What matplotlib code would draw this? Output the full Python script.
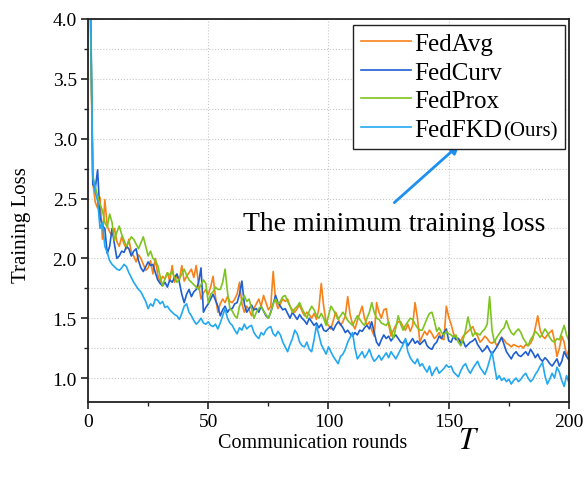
import numpy as np
import matplotlib
matplotlib.use('Agg')
import matplotlib.pyplot as plt
from matplotlib.ticker import MultipleLocator
from matplotlib.offsetbox import TextArea, HPacker

plt.rcParams['font.family'] = ['Liberation Serif', 'DejaVu Serif']
plt.rcParams['mathtext.fontset'] = 'stix'

rounds = np.arange(0, 201)

fedavg = [
    5.2, 4.0, 2.64, 2.47, 2.42, 2.51, 2.16, 2.49, 2.27, 2.22,
    2.19, 2.25, 2.14, 2.10, 2.18, 2.12, 2.08, 2.16, 2.05, 2.02,
    1.97, 2.03, 2.00, 1.95, 1.90, 1.92, 1.98, 1.87, 2.00, 1.86,
    1.80, 1.85, 1.83, 1.88, 1.81, 1.94, 1.80, 1.86, 1.82, 1.94,
    1.81, 1.85, 1.88, 1.91, 1.84, 1.94, 1.78, 1.66, 1.71, 1.74,
    1.70, 1.76, 1.85, 1.68, 1.55, 1.62, 1.66, 1.63, 1.68, 1.64,
    1.63, 1.66, 1.70, 1.80, 1.62, 1.55, 1.60, 1.57, 1.52, 1.58,
    1.62, 1.66, 1.60, 1.69, 1.63, 1.57, 1.60, 1.89, 1.65, 1.58,
    1.62, 1.66, 1.64, 1.66, 1.60, 1.57, 1.55, 1.58, 1.61, 1.56,
    1.52, 1.55, 1.53, 1.50, 1.54, 1.49, 1.58, 1.79, 1.60, 1.47,
    1.44, 1.41, 1.48, 1.55, 1.50, 1.44, 1.47, 1.52, 1.68, 1.53,
    1.45, 1.41, 1.48, 1.54, 1.60, 1.50, 1.44, 1.47, 1.40, 1.35,
    1.63, 1.55, 1.50, 1.57, 1.58, 1.45, 1.35, 1.40, 1.44, 1.47,
    1.47, 1.43, 1.40, 1.45, 1.39, 1.44, 1.63, 1.50, 1.30, 1.35,
    1.39, 1.36, 1.40, 1.37, 1.33, 1.35, 1.38, 1.33, 1.32, 1.60,
    1.51, 1.45, 1.37, 1.34, 1.33, 1.31, 1.35, 1.37, 1.39, 1.41,
    1.43, 1.38, 1.35, 1.30, 1.32, 1.35, 1.33, 1.30, 1.29, 1.31,
    1.27, 1.30, 1.34, 1.32, 1.29, 1.28, 1.26, 1.28, 1.27, 1.26,
    1.27, 1.25, 1.28, 1.27, 1.29, 1.33, 1.42, 1.52, 1.40, 1.35,
    1.33, 1.36, 1.38, 1.40, 1.31, 1.18, 1.25, 1.35, 1.30, 1.18,
    1.24]

fedcurv = [
    5.8, 4.3, 2.62, 2.58, 2.74, 2.35, 2.27, 2.25, 2.04, 2.10,
    2.25, 2.12, 2.00, 2.02, 2.06, 2.05, 2.10, 2.08, 2.02, 2.06,
    2.08, 1.98, 1.92, 1.89, 1.93, 1.97, 1.94, 1.95, 1.88, 1.82,
    1.79, 1.77, 1.80, 1.76, 1.82, 1.80, 1.84, 1.87, 1.80, 1.70,
    1.63, 1.70, 1.74, 1.68, 1.72, 1.74, 1.80, 1.92, 1.55, 1.59,
    1.62, 1.66, 1.70, 1.65, 1.60, 1.52, 1.57, 1.60, 1.55, 1.58,
    1.58, 1.62, 1.63, 1.70, 1.81, 1.62, 1.55, 1.58, 1.61, 1.57,
    1.58, 1.55, 1.60, 1.56, 1.52, 1.50, 1.55, 1.62, 1.69, 1.63,
    1.60, 1.57, 1.58, 1.54, 1.50, 1.55, 1.52, 1.49, 1.53, 1.50,
    1.48, 1.45, 1.50, 1.47, 1.44, 1.46, 1.42, 1.45, 1.40, 1.39,
    1.41, 1.43, 1.40, 1.44, 1.47, 1.45, 1.42, 1.38, 1.40, 1.37,
    1.35, 1.38, 1.36, 1.40, 1.39, 1.42, 1.44, 1.41, 1.47, 1.38,
    1.30, 1.27, 1.32, 1.36, 1.33, 1.35, 1.31, 1.34, 1.36, 1.33,
    1.30, 1.29, 1.32, 1.27, 1.30, 1.33, 1.29, 1.31, 1.28, 1.30,
    1.32, 1.27, 1.25, 1.24, 1.28, 1.30, 1.35, 1.33, 1.38, 1.41,
    1.31, 1.30, 1.35, 1.32, 1.33, 1.29, 1.31, 1.26, 1.28, 1.30,
    1.31, 1.33, 1.28, 1.25, 1.22, 1.24, 1.27, 1.23, 1.20, 1.23,
    1.26, 1.30, 1.34, 1.28, 1.22, 1.19, 1.16, 1.20, 1.22, 1.19,
    1.18, 1.20, 1.22, 1.19, 1.24, 1.21, 1.17, 1.20, 1.16, 1.14,
    1.17, 1.15, 1.12, 1.10, 1.13, 1.16, 1.10, 1.14, 1.22, 1.18,
    1.15]

fedprox = [
    5.6, 4.1, 2.68, 2.60, 2.52, 2.45, 2.40, 2.30, 2.26, 2.37,
    2.30, 2.15, 2.22, 2.27, 2.20, 2.15, 2.10, 2.14, 2.18, 2.16,
    2.12, 2.08, 2.13, 2.18, 2.10, 2.02, 2.06, 2.00, 1.98, 1.94,
    1.85, 1.77, 1.83, 1.88, 1.86, 1.89, 1.84, 1.80, 1.83, 1.87,
    1.91, 1.86, 1.82, 1.80, 1.78, 1.76, 1.74, 1.78, 1.82, 1.79,
    1.63, 1.70, 1.72, 1.76, 1.74, 1.74, 1.80, 1.91, 1.72, 1.58,
    1.56, 1.52, 1.50, 1.60, 1.65, 1.69, 1.64, 1.66, 1.58, 1.50,
    1.55, 1.58, 1.60, 1.56, 1.53, 1.50, 1.55, 1.62, 1.66, 1.62,
    1.64, 1.68, 1.69, 1.64, 1.60, 1.55, 1.58, 1.60, 1.63, 1.58,
    1.54, 1.50, 1.56, 1.60, 1.57, 1.52, 1.50, 1.54, 1.50, 1.44,
    1.52, 1.60, 1.57, 1.53, 1.49, 1.52, 1.55, 1.52, 1.48, 1.46,
    1.44, 1.48, 1.52, 1.49, 1.46, 1.44, 1.50, 1.55, 1.63, 1.55,
    1.50, 1.49, 1.46, 1.45, 1.44, 1.47, 1.40, 1.33, 1.42, 1.52,
    1.45, 1.40, 1.44, 1.47, 1.50, 1.49, 1.45, 1.42, 1.40, 1.40,
    1.45, 1.50, 1.54, 1.55, 1.48, 1.39, 1.42, 1.38, 1.36, 1.39,
    1.37, 1.36, 1.34, 1.36, 1.30, 1.27, 1.32, 1.40, 1.51, 1.42,
    1.35, 1.38, 1.37, 1.36, 1.39, 1.41, 1.45, 1.68, 1.40, 1.30,
    1.34, 1.37, 1.40, 1.42, 1.48, 1.42, 1.38, 1.36, 1.39, 1.41,
    1.38, 1.33, 1.30, 1.27, 1.32, 1.35, 1.39, 1.37, 1.34, 1.37,
    1.41, 1.38, 1.34, 1.31, 1.30, 1.33, 1.32, 1.38, 1.44, 1.36,
    1.31]

fedfkd = [
    5.5, 4.2, 2.70, 2.55, 2.48, 2.25, 2.30, 2.10, 2.05, 1.98,
    1.95, 1.93, 1.91, 1.90, 1.92, 1.95, 1.93, 1.88, 1.84, 1.80,
    1.77, 1.74, 1.72, 1.68, 1.64, 1.58, 1.62, 1.60, 1.66, 1.65,
    1.62, 1.64, 1.59, 1.60, 1.57, 1.55, 1.53, 1.52, 1.49, 1.54,
    1.60, 1.62, 1.55, 1.52, 1.48, 1.45, 1.47, 1.50, 1.46, 1.45,
    1.47, 1.44, 1.43, 1.45, 1.41, 1.46, 1.52, 1.58, 1.50, 1.46,
    1.44, 1.40, 1.37, 1.42, 1.40, 1.45, 1.41, 1.43, 1.44, 1.38,
    1.35, 1.33, 1.38, 1.36, 1.40, 1.42, 1.43, 1.37, 1.35, 1.39,
    1.36, 1.30, 1.26, 1.22, 1.28, 1.33, 1.40, 1.37, 1.30, 1.27,
    1.26, 1.30, 1.24, 1.22, 1.32, 1.44, 1.36, 1.28, 1.24, 1.20,
    1.26, 1.22, 1.18, 1.15, 1.12, 1.18, 1.20, 1.24, 1.30, 1.34,
    1.38, 1.25, 1.16, 1.19, 1.22, 1.17, 1.20, 1.24, 1.18, 1.14,
    1.16, 1.19, 1.15, 1.18, 1.21, 1.17, 1.22, 1.19, 1.16, 1.20,
    1.24, 1.28, 1.33, 1.22, 1.17, 1.14, 1.12, 1.16, 1.10, 1.12,
    1.08, 1.05, 1.10, 1.02, 1.06, 1.09, 1.04, 1.06, 1.08, 1.11,
    1.09, 1.10, 1.05, 1.03, 1.01, 1.06, 1.10, 1.12, 1.07, 1.04,
    1.08, 1.11, 1.14, 1.09, 1.06, 1.03, 1.08, 1.15, 1.22, 1.10,
    0.99, 1.02, 0.98, 1.00, 0.97, 0.99, 0.95, 0.98, 1.00, 0.97,
    0.99, 1.02, 1.04, 1.00, 0.97, 0.99, 1.03, 1.06, 1.10, 1.13,
    1.02, 0.95, 0.99, 1.04, 1.00, 1.09, 1.05, 0.98, 0.93, 1.02,
    0.96]

series_names = ['FedAvg', 'FedCurv', 'FedProx', 'FedFKD']
series_values = [fedavg, fedcurv, fedprox, fedfkd]
series_colors = ['#F7821B', '#1F5FD2', '#7DC41F', '#22A8F0']

fig = plt.figure(figsize=(5.87, 4.81), dpi=100)
ax = fig.add_axes([0.1499, 0.1622, 0.8194, 0.7963])

for name, vals, col in zip(series_names, series_values, series_colors):
    ax.plot(rounds, vals, color=col, lw=1.2, label=name)

ax.set_xlim(0, 200)
ax.set_ylim(0.8, 4.0)
ax.xaxis.set_major_locator(MultipleLocator(50))
ax.xaxis.set_minor_locator(MultipleLocator(25))
ax.yaxis.set_minor_locator(MultipleLocator(0.25))
ax.set_yticks([1.0, 1.5, 2.0, 2.5, 3.0, 3.5, 4.0])

ax.grid(True, which='major', axis='x', ls=':', color='#c8c8c8', lw=0.8)
ax.grid(True, which='both', axis='y', ls=':', color='#c8c8c8', lw=0.8)
ax.set_axisbelow(True)

for sp in ax.spines.values():
    sp.set_linewidth(1.3)
    sp.set_color('#222222')
ax.tick_params(which='major', direction='out', length=5, width=1.2, labelsize=14, pad=3, color='#222222')
ax.tick_params(which='minor', direction='out', length=3, width=1.0, color='#222222')

ax.set_ylabel('Training Loss', fontsize=15)
ax.yaxis.set_label_coords(-0.118, 0.465)
ax.text(0.27, -0.117, 'Communication rounds', transform=ax.transAxes,
        fontsize=14.5, ha='left', va='baseline')
ax.text(0.77, -0.121, r'$T$', transform=ax.transAxes, fontsize=22, ha='left', va='baseline')

leg = ax.legend(loc='upper right', bbox_to_anchor=(0.992, 0.985), borderaxespad=0,
                fontsize=18, frameon=True, fancybox=False, framealpha=1,
                edgecolor='#222222', borderpad=0.32, handlelength=2.0,
                handletextpad=0.15, labelspacing=0.24)
leg.get_frame().set_linewidth(1.0)

# add smaller "(Ours)" after FedFKD inside the legend
try:
    for col in leg._legend_handle_box.get_children():
        for row in col.get_children():
            kids = row.get_children()
            if len(kids) == 2 and isinstance(kids[1], TextArea) and kids[1].get_text() == 'FedFKD':
                extra = TextArea('(Ours)', textprops=dict(fontsize=15, family=['Liberation Serif']))
                hp = HPacker(children=[kids[1], extra], align='baseline', pad=0, sep=0)
                hp.set_figure(fig)
                row._children = [kids[0], hp]
except Exception:
    pass

ax.text(127.5, 2.29, 'The minimum training loss', fontsize=20, ha='center', va='center')
ax.annotate('', xy=(155.5, 2.97), xytext=(126.5, 2.45),
            arrowprops=dict(arrowstyle='-|>', color='#1E90F0', lw=2.0, mutation_scale=14))

fig.savefig('out.png', dpi=100)
